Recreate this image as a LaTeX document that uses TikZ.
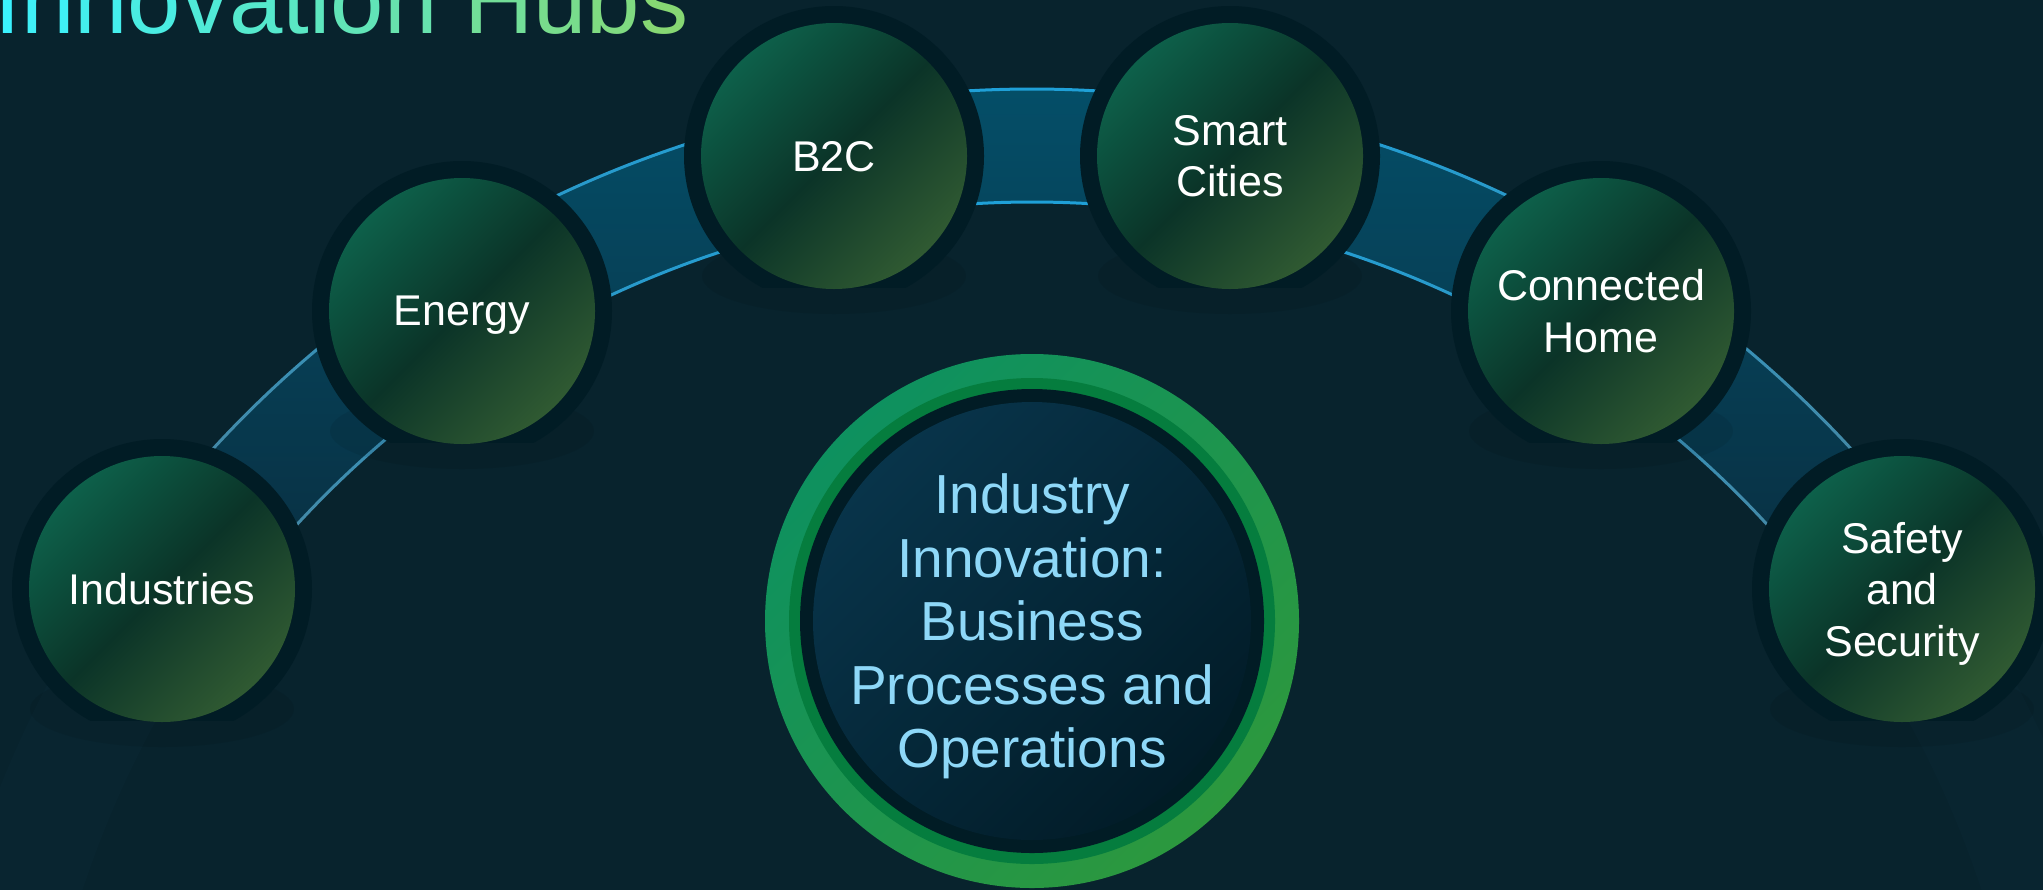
\documentclass[tikz,border=0pt]{standalone}
\usepackage{fontspec}
\setmainfont{Liberation Sans}
\definecolor{bg}{RGB}{8,35,45}
\definecolor{bandtop}{RGB}{4,80,106}
\definecolor{bandbot}{RGB}{9,44,62}
\definecolor{linetop}{RGB}{28,162,220}
\definecolor{linebot}{RGB}{78,130,152}
\definecolor{bandfaint}{RGB}{9,37,48}
\definecolor{ringdark}{RGB}{1,28,37}
\definecolor{discA}{RGB}{13,96,74}
\definecolor{discM}{RGB}{11,52,40}
\definecolor{discB}{RGB}{48,90,50}
\definecolor{greenA}{RGB}{14,145,95}
\definecolor{greenB}{RGB}{44,152,62}
\definecolor{greenmid}{RGB}{5,125,62}
\definecolor{coreA}{RGB}{8,52,74}
\definecolor{coreB}{RGB}{2,28,40}
\definecolor{coretext}{RGB}{142,216,248}
\definecolor{ttlA}{RGB}{58,242,255}
\definecolor{ttlB}{RGB}{138,214,108}
\newcommand{\ttl}[2]{\textcolor{ttlB!#1!ttlA}{#2}}
\tikzset{
  hubdisc/.style={circle, inner sep=0pt, minimum size=133pt, text=white, align=center,
    font=\fontsize{21.5}{25.75}\selectfont, text depth=0pt,
    top color=discA, bottom color=discB, middle color=discM, shading angle=45},
  coredisc/.style={circle, inner sep=0pt, minimum size=219pt,
    top color=coreA, bottom color=coreB, shading angle=45},
  coretxt/.style={inner sep=0pt, text=coretext, align=center, text depth=0pt,
    font=\fontsize{27.5}{31.75}\selectfont},
  titletxt/.style={inner sep=0pt, anchor=base west, font=\fontsize{48}{56}\selectfont},
}
\newcommand{\drawhub}[4]{%
  \fill[black, opacity=0.07] (#2,-#3-120) ellipse[x radius=132, y radius=38];
  \begin{scope}
    \clip (#2-160,-#3+160) rectangle (#2+160,-#3-131);
    \fill[ringdark] (#2,-#3) circle[radius=150];
  \end{scope}
  \node[hubdisc] (#1) at (#2,-#3) {#4};
}
\begin{document}
\begin{tikzpicture}[x=0.5pt,y=0.5pt]
\useasboundingbox (0,0) rectangle (2043,-889);
\fill[bg] (-20,20) rectangle (2063,-909);
\coordinate (O) at (1032,-1201);
% faint continuation of the band
\fill[bandfaint] ([shift={(144.9:1112)}]O) arc[start angle=144.9, end angle=172, radius=1112]
  -- ([shift={(172:999)}]O) arc[start angle=172, end angle=144.9, radius=999] -- cycle;
\fill[bandfaint] ([shift={(35.1:1112)}]O) arc[start angle=35.1, end angle=8, radius=1112]
  -- ([shift={(8:999)}]O) arc[start angle=8, end angle=35.1, radius=999] -- cycle;
% main band
\shade[top color=bandtop, bottom color=bandbot]
  ([shift={(144.9:1112)}]O) arc[start angle=144.9, end angle=35.1, radius=1112]
  -- ([shift={(35.1:999)}]O) arc[start angle=35.1, end angle=144.9, radius=999] -- cycle;
% edge lines
\shade[top color=linetop, bottom color=linebot]
  ([shift={(144.9:1113.5)}]O) arc[start angle=144.9, end angle=35.1, radius=1113.5]
  -- ([shift={(35.1:1110.5)}]O) arc[start angle=35.1, end angle=144.9, radius=1110.5] -- cycle;
\shade[top color=linetop, bottom color=linebot]
  ([shift={(144.9:1000.5)}]O) arc[start angle=144.9, end angle=35.1, radius=1000.5]
  -- ([shift={(35.1:997.5)}]O) arc[start angle=35.1, end angle=144.9, radius=997.5] -- cycle;
% hubs
\drawhub{ind}{162}{589}{Industries}
\drawhub{ene}{462}{311}{Energy}
\drawhub{btc}{834}{156}{B2C}
\drawhub{smc}{1230}{156}{Smart\\Cities}
\drawhub{coh}{1601}{311}{Connected\\Home}
\drawhub{saf}{1902}{589}{Safety\\and\\Security}
% central circle
\shade[top color=greenA, bottom color=greenB, shading angle=45] (1032,-621) circle[radius=267];
\fill[greenmid] (1032,-621) circle[radius=243];
\fill[ringdark] (1032,-621) circle[radius=232];
\node[coredisc] (coredisc) at (1032,-621) {};
\node[coretxt] (core) at (1032,-621) {Industry\\Innovation:\\Business\\Processes and\\Operations};
% title
\node[titletxt] (title) at (-6,-33) {\ttl{0}{I}\ttl{6}{n}\ttl{13}{n}\ttl{20}{o}\ttl{27}{v}\ttl{34}{a}\ttl{40}{t}\ttl{44}{i}\ttl{49}{o}\ttl{56}{n}\ \ttl{70}{H}\ttl{78}{u}\ttl{86}{b}\ttl{95}{s}};
\end{tikzpicture}
\end{document}
